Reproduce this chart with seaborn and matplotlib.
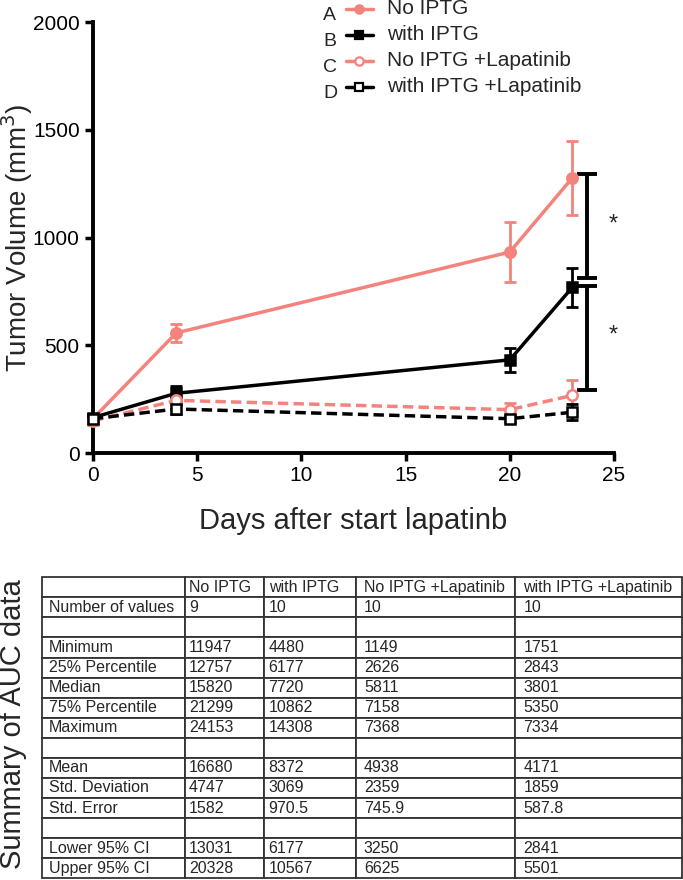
import pandas as pd
import numpy as np
import matplotlib
matplotlib.use("Agg")
import matplotlib.pyplot as plt
import seaborn as sb

sb.set_style("ticks")
plt.rcParams['font.family'] = ['Liberation Sans', 'DejaVu Sans']

# tumor growth data (mean +- sem)
days = [0, 4, 20, 23]
groups = ["No IPTG", "with IPTG", "No IPTG +Lapatinib", "with IPTG +Lapatinib"]
letters = ["A", "B", "C", "D"]
no_iptg = [160, 558, 933, 1277]
no_iptg_err = [20, 42, 140, 172]
with_iptg = [165, 278, 433, 769]
with_iptg_err = [15, 36, 55, 92]
no_iptg_lap = [150, 245, 202, 268]
no_iptg_lap_err = [18, 22, 32, 72]
with_iptg_lap = [160, 205, 160, 190]
with_iptg_lap_err = [15, 25, 15, 36]

# significance brackets (top, bottom)
sig_x = 23.7
sig_pairs = [(1293, 812), (775, 292)]

# AUC summary table
table_cols = ["", "No IPTG", "with IPTG", "No IPTG +Lapatinib", "with IPTG +Lapatinib"]
table_rows = ["Number of values", "", "Minimum", "25% Percentile", "Median", "75% Percentile",
              "Maximum", "", "Mean", "Std. Deviation", "Std. Error", "", "Lower 95% CI", "Upper 95% CI"]
col_no_iptg = ["9", "", "11947", "12757", "15820", "21299", "24153", "", "16680", "4747", "1582", "", "13031", "20328"]
col_with_iptg = ["10", "", "4480", "6177", "7720", "10862", "14308", "", "8372", "3069", "970.5", "", "6177", "10567"]
col_no_lap = ["10", "", "1149", "2626", "5811", "7158", "7368", "", "4938", "2359", "745.9", "", "3250", "6625"]
col_with_lap = ["10", "", "1751", "2843", "3801", "5350", "7334", "", "4171", "1859", "587.8", "", "2841", "5501"]

pink = "#F4837D"
colors = [pink, "black", pink, "black"]
means = [no_iptg, with_iptg, no_iptg_lap, with_iptg_lap]
errs = [no_iptg_err, with_iptg_err, no_iptg_lap_err, with_iptg_lap_err]

df = pd.DataFrame({
    "day": days * 4,
    "vol": sum(means, []),
    "group": np.repeat(groups, len(days)),
})

fig = plt.figure(figsize=(6.83, 8.8), dpi=100)
ax = fig.add_axes([0.136, 0.485, 0.763, 0.49])

sb.lineplot(data=df, x="day", y="vol", hue="group", style="group", hue_order=groups,
            style_order=groups, palette=dict(zip(groups, colors)),
            markers=dict(zip(groups, ["o", "s", "o", "s"])),
            dashes=dict(zip(groups, [(1, 0), (1, 0), (3, 1.5), (3, 1.5)])),
            linewidth=2.5, markersize=7.5, markeredgewidth=1.8, legend=False, ax=ax, zorder=3)

for i, line in enumerate(ax.lines[:4]):
    line.set_markeredgecolor(colors[i])
    line.set_clip_on(False)
    if i >= 2:
        line.set_markerfacecolor("white")
    ax.errorbar(days, means[i], yerr=errs[i], fmt="none", ecolor=colors[i],
                elinewidth=2, capsize=4.5, capthick=2, zorder=2, clip_on=False)

# significance brackets
for top, bot in sig_pairs:
    ax.errorbar([sig_x], [(top + bot) / 2], yerr=[(top - bot) / 2], fmt="none",
                ecolor="black", elinewidth=2.8, capsize=7, capthick=2.8, clip_on=False)
    ax.text(sig_x + 1.25, (top + bot) / 2 + 10, "*", fontsize=17, ha="center", va="center",
            clip_on=False)

ax.set_xlim(0, 25)
ax.set_ylim(0, 2000)
ax.set_xticks([0, 5, 10, 15, 20, 25])
ax.set_yticks([0, 500, 1000, 1500, 2000])
ax.tick_params(labelsize=15, width=2.5, length=6, color="black", labelcolor="black")
for s in ["left", "bottom"]:
    ax.spines[s].set_linewidth(2.8)
    ax.spines[s].set_color("black")
sb.despine(ax=ax)
ax.set_xlabel("Days after start lapatinb", fontsize=21)
ax.set_ylabel("Tumor Volume (mm$^3$)", fontsize=20)
ax.xaxis.set_label_coords(0.5, -0.125)
ax.yaxis.set_label_coords(-0.112, 0.5)

# legend drawn by hand with letters
for i, g in enumerate(groups):
    y = 0.99 - i * 0.0295
    fig.text(0.473, y - 0.008, letters[i], fontsize=14, ha="left", va="center")
    fig.add_artist(plt.Line2D([0.506, 0.546], [y, y], color=colors[i], lw=2.5,
                              transform=fig.transFigure))
    fig.add_artist(plt.Line2D([0.526], [y], color=colors[i], lw=0,
                              marker="o" if i % 2 == 0 else "s", markersize=6,
                              markerfacecolor="white" if i >= 2 else colors[i],
                              markeredgecolor=colors[i], markeredgewidth=1.6,
                              transform=fig.transFigure))
    fig.text(0.566, y, g, fontsize=15, ha="left", va="center")

# table
tax = fig.add_axes([0.0615, 0.002, 0.937, 0.342])
tax.axis("off")
cell_text = [table_cols] + [[r, a, b, c, d] for r, a, b, c, d in
                            zip(table_rows, col_no_iptg, col_with_iptg, col_no_lap, col_with_lap)]
widths = np.array([143, 79, 92, 159, 167]) / 640
tbl = tax.table(cellText=cell_text, colWidths=widths, cellLoc="left", bbox=[0, 0, 1, 1])
tbl.auto_set_font_size(False)
for (r, c), cell in tbl.get_celld().items():
    cell.set_linewidth(1.3)
    cell.set_edgecolor("#333333")
    cell.get_text().set_fontsize(11.5)
    cell.PAD = 0.05

fig.text(0.019, 0.177, "Summary of AUC data", rotation=90, fontsize=21, ha="center", va="center")

fig.savefig("out.png", dpi=100)
